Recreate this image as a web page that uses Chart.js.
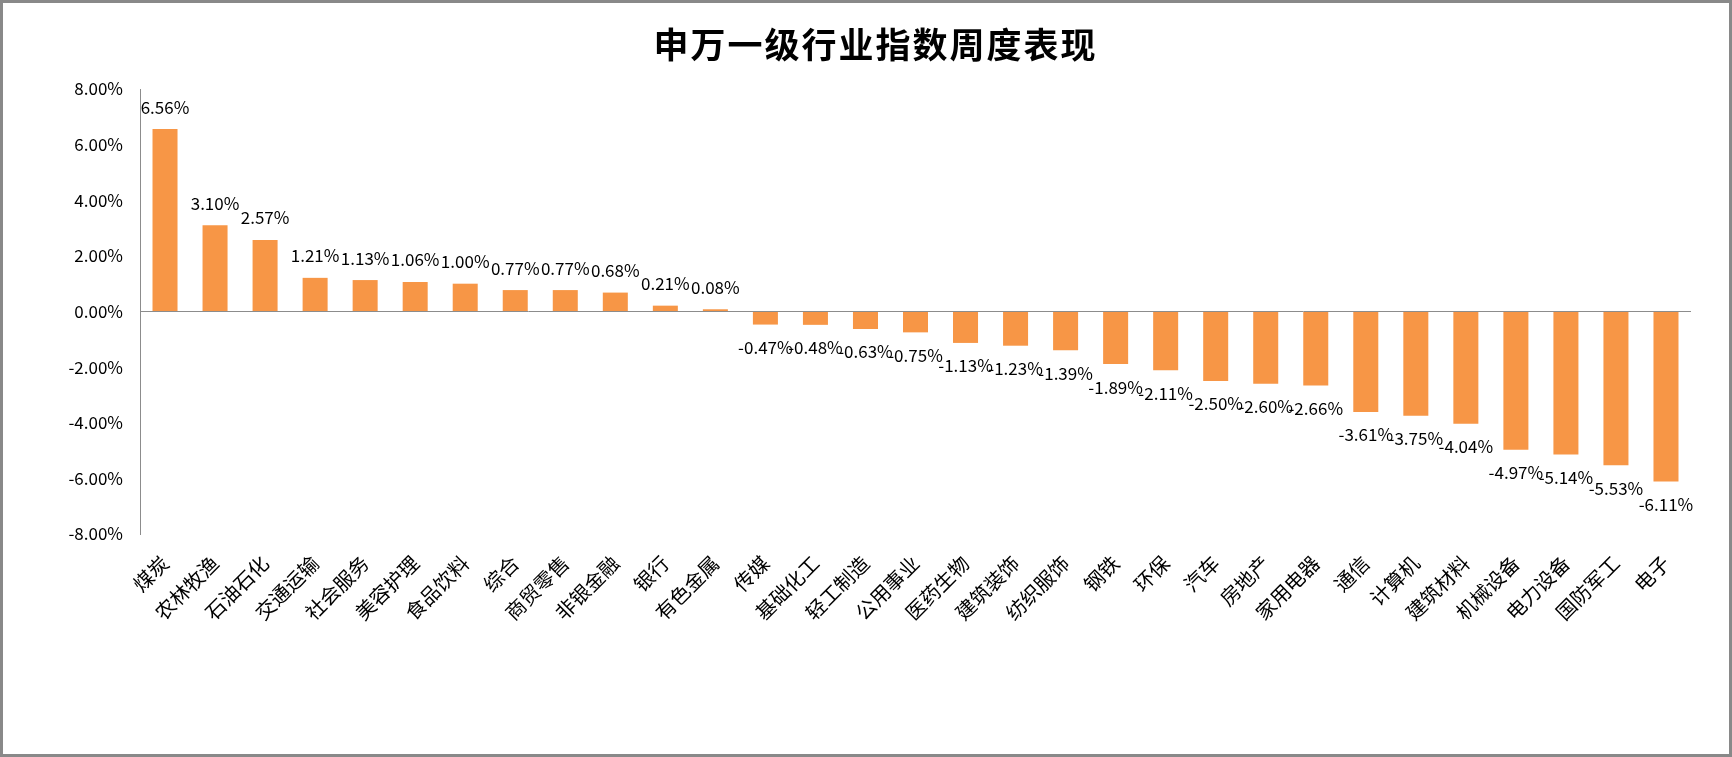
<!DOCTYPE html>
<html>
<head>
<meta charset="utf-8">
<script src="https://cdn.jsdelivr.net/npm/chart.js@4.4.1/dist/chart.umd.min.js"></script>
<style>
  html, body { margin: 0; padding: 0; background: #fff; }
  #wrap { position: relative; width: 1732px; height: 757px; overflow: hidden; }
  #c { position: absolute; left: 0; top: 0; }
  #frame { position: absolute; left: 0; top: 0; width: 1732px; height: 757px; box-sizing: border-box; border: 3px solid #898989; pointer-events: none; }
</style>
</head>
<body>
<div id="wrap">
  <canvas id="c" width="1732" height="757"></canvas>
  <div id="frame"></div>
</div>
<script>
const chartTitle = '申万一级行业指数周度表现';
const categories = ['煤炭','农林牧渔','石油石化','交通运输','社会服务','美容护理','食品饮料','综合','商贸零售','非银金融','银行','有色金属','传媒','基础化工','轻工制造','公用事业','医药生物','建筑装饰','纺织服饰','钢铁','环保','汽车','房地产','家用电器','通信','计算机','建筑材料','机械设备','电力设备','国防军工','电子'];
const weeklyChange = [6.56,3.10,2.57,1.21,1.13,1.06,1.00,0.77,0.77,0.68,0.21,0.08,-0.47,-0.48,-0.63,-0.75,-1.13,-1.23,-1.39,-1.89,-2.11,-2.50,-2.60,-2.66,-3.61,-3.75,-4.04,-4.97,-5.14,-5.53,-6.11];
const yTicks = [-8,-6,-4,-2,0,2,4,6,8];

const FONT = '"Noto Sans CJK SC", "Noto Sans", sans-serif';
const fmt = v => v.toFixed(2) + '%';

const titlePlugin = {
  id: 'customTitle',
  afterDraw(chart) {
    const ctx = chart.ctx;
    ctx.save();
    ctx.font = 'bold 35px ' + FONT;
    ctx.fillStyle = '#000';
    ctx.textBaseline = 'middle';
    ctx.textAlign = 'center';
    const chars = Array.from(chartTitle);
    const first = 671, last = 1078;
    const pitch = (last - first) / (chars.length - 1);
    chars.forEach((ch, i) => ctx.fillText(ch, first + i * pitch, 45));
    ctx.restore();
  }
};

const labelPlugin = {
  id: 'barLabels',
  afterDatasetsDraw(chart) {
    const ctx = chart.ctx;
    const meta = chart.getDatasetMeta(0);
    ctx.save();
    ctx.font = '17px ' + FONT;
    ctx.fillStyle = '#000';
    ctx.textAlign = 'center';
    ctx.textBaseline = 'middle';
    meta.data.forEach((bar, i) => {
      const v = weeklyChange[i];
      const y = v >= 0 ? bar.y - 22 : bar.y + 23;
      ctx.fillText(fmt(v), bar.x, y);
    });
    ctx.restore();
  }
};

new Chart(document.getElementById('c'), {
  type: 'bar',
  data: {
    labels: categories,
    datasets: [{
      data: weeklyChange,
      backgroundColor: '#F79646',
      borderWidth: 0,
      categoryPercentage: 1.0,
      barPercentage: 0.5
    }]
  },
  options: {
    responsive: false,
    animation: false,
    devicePixelRatio: 1,
    layout: { padding: { top: 89, left: 0, right: 41, bottom: 0 } },
    plugins: {
      legend: { display: false },
      title: { display: false },
      tooltip: { enabled: false }
    },
    scales: {
      x: {
        grid: { display: false, drawTicks: false },
        border: { display: false },
        ticks: {
          autoSkip: false,
          maxRotation: 45,
          minRotation: 45,
          padding: 17,
          color: '#000',
          font: { family: FONT, size: 20 }
        },
        afterFit(scale) { scale.height = 223; }
      },
      y: {
        min: -8,
        max: 8,
        afterBuildTicks(scale) { scale.ticks = yTicks.map(v => ({ value: v })); },
        grid: {
          drawTicks: false,
          color: c => (c.tick && c.tick.value === 0) ? '#8c8c8c' : 'rgba(0,0,0,0)',
          lineWidth: 1
        },
        border: { display: true, color: '#8c8c8c', width: 1 },
        ticks: {
          padding: 17,
          color: '#000',
          font: { family: FONT, size: 17 },
          callback: v => fmt(v)
        },
        afterFit(scale) { scale.width = 140; }
      }
    }
  },
  plugins: [titlePlugin, labelPlugin]
});
</script>
</body>
</html>
